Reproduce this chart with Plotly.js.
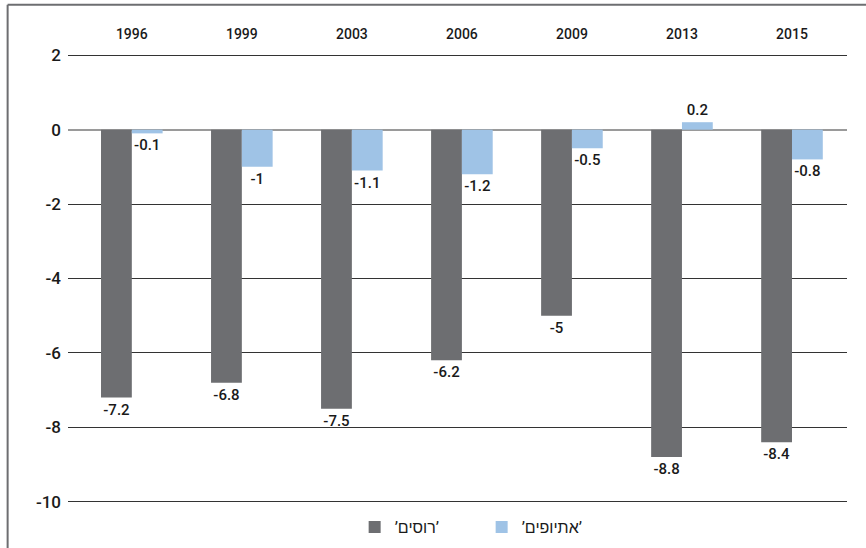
<!DOCTYPE html>
<html>
<head>
<meta charset="utf-8">
<script src="https://cdn.plot.ly/plotly-3.0.1.min.js"></script>
<style>
html,body{margin:0;padding:0;background:#fff;}
#chart{width:866px;height:548px;}
</style>
</head>
<body>
<div id="chart"></div>
<script>
const years = ['1996', '1999', '2003', '2006', '2009', '2013', '2015'];
const russians = [-7.2, -6.8, -7.5, -6.2, -5, -8.8, -8.4];
const ethiopians = [-0.1, -1, -1.1, -1.2, -0.5, 0.2, -0.8];
const seriesNames = ['’רוסים’', '’אתיופים’'];
const yTicks = [2, 0, -2, -4, -6, -8, -10];

const fontFam = 'Roboto, "Liberation Sans", Arial, sans-serif';

const traces = [
  {
    type: 'bar', name: seriesNames[0], x: years, y: russians,
    marker: {color: '#6d6e71'},
    text: russians.map(String), textposition: 'outside', cliponaxis: false,
    textfont: {family: fontFam, size: 15, color: '#1a1a1a', weight: 500}
  },
  {
    type: 'bar', name: seriesNames[1], x: years, y: ethiopians,
    marker: {color: '#9fc3e6'},
    text: ethiopians.map(String), textposition: 'outside', cliponaxis: false,
    textfont: {family: fontFam, size: 15, color: '#1a1a1a', weight: 500}
  }
];

const layout = {
  width: 866, height: 548,
  margin: {l: 68, r: 19, t: 53, b: 44, pad: 0, autoexpand: false},
  paper_bgcolor: '#fff', plot_bgcolor: '#fff',
  font: {family: fontFam, color: '#222'},
  barmode: 'group', bargap: 0.44, bargroupgap: 0,
  showlegend: true,
  legend: {orientation: 'h', x: 0.531, xanchor: 'center', yref: 'container', y: 0.038, yanchor: 'middle',
           entrywidth: 82, entrywidthmode: 'pixels',
           font: {family: fontFam, size: 16, color: '#1a1a1a'}, traceorder: 'normal'},
  xaxis: {
    type: 'category', side: 'top', range: [-0.58, 6.5],
    showgrid: false, zeroline: false, showline: false, ticks: '',
    tickfont: {family: fontFam, size: 14, color: '#1a1a1a', weight: 500},
    ticklabelstandoff: 10
  },
  yaxis: {
    range: [-10.06, 2.06], tickvals: yTicks, ticktext: yTicks.map(String),
    showgrid: true, gridcolor: '#333', gridwidth: 1,
    zeroline: true, zerolinecolor: '#9a9a9a', zerolinewidth: 2,
    showline: false, ticks: '', layer: 'above traces',
    tickfont: {family: fontFam, size: 17, color: '#1a1a1a', weight: 500},
    ticklabelstandoff: 6
  },
  shapes: [
    {type: 'line', xref: 'paper', yref: 'paper', x0: -0.0775, x1: -0.0775, y0: -0.2, y1: 1.107,
     line: {color: '#6d6e71', width: 2}},
    {type: 'line', xref: 'paper', yref: 'paper', x0: -0.0775, x1: 1.03, y0: 1.107, y1: 1.107,
     line: {color: '#6d6e71', width: 2}}
  ]
};

Plotly.newPlot('chart', traces, layout, {displayModeBar: false, responsive: false});
</script>
</body>
</html>
